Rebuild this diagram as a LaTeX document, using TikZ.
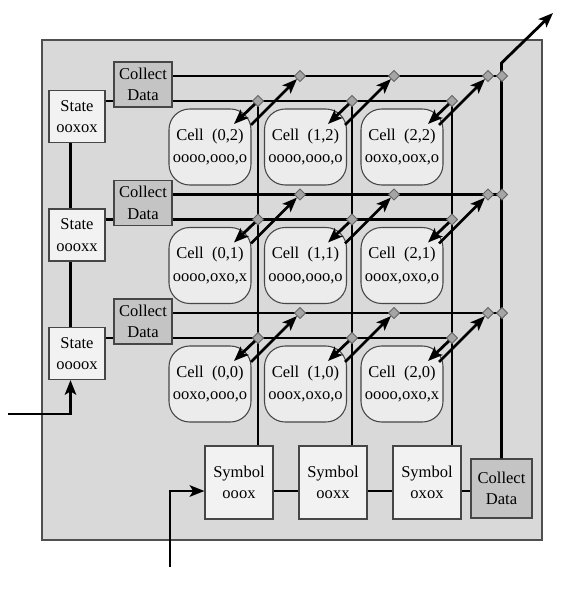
\documentclass[tikz,border=0pt]{standalone}
\usepackage{fontspec}
\setmainfont{Liberation Serif}
\usetikzlibrary{shapes.geometric,arrows.meta,calc}
\definecolor{panel}{RGB}{217,217,217}
\definecolor{frame}{RGB}{80,80,80}
\definecolor{boxline}{RGB}{70,70,70}
\definecolor{light}{RGB}{242,242,242}
\definecolor{cellfill}{RGB}{236,236,236}
\definecolor{collgray}{RGB}{196,196,196}
\definecolor{diafill}{RGB}{165,165,165}
\definecolor{diaedge}{RGB}{100,100,100}
\begin{document}
\begin{tikzpicture}[x=0.75pt,y=-0.75pt,>={Stealth[length=11pt,width=8.5pt,inset=2.5pt]},
every node/.style={font=\fontsize{12.4pt}{16pt}\selectfont},
box/.style={draw=boxline,line width=0.8pt,align=center,inner sep=0pt},
statebox/.style={box,fill=light,minimum width=42pt,minimum height=39pt},
collbox/.style={box,fill=collgray,minimum width=43.5pt,minimum height=33.75pt},
cellbox/.style={box,fill=cellfill,rounded corners=15.5pt,minimum width=61.5pt,minimum height=57pt,font=\fontsize{12.4pt}{17pt}\selectfont},
symbox/.style={box,fill=light,minimum width=51pt,minimum height=54.75pt},
dia/.style={diamond,draw=diaedge,fill=diafill,line width=0.6pt,inner sep=0pt,minimum size=8.5pt},
wire/.style={line width=2.1pt}]
\useasboundingbox (0,0) rectangle (566,599);
\draw[fill=panel,draw=frame,line width=1pt] (42,40) rectangle (542,540);

\coordinate (bus) at (0,491);
\coordinate (stx) at (70.5,0);
\coordinate (inL) at (8,414);
\coordinate (inS) at (170,567);
\coordinate (outc) at (502,63);
\coordinate (outt) at (553,13);
\foreach \j [evaluate=\j as \o using {118.5*(2-\j)}] in {2,1,0}{
  \foreach \i/\lx/\ux in {0/258/300,1/352/394,2/452/488}{
    \coordinate (lo-\i-\j) at (\lx,101+\o);
    \coordinate (up-\i-\j) at (\ux,76+\o);
  }
  \coordinate (up-3-\j) at (502,76+\o);
}

% boxes
\node[statebox] (state-2) at (77,116.5) {State\\ooxox};
\node[statebox] (state-1) at (77,235) {State\\oooxx};
\node[statebox] (state-0) at (77,353.5) {State\\oooox};
\foreach \j [evaluate=\j as \o using {118.5*(2-\j)}] in {2,1,0}
  \node[collbox] (coll-\j) at (143,84.5+\o) {Collect\\Data};
\foreach \i/\j/\d in {0/2/{oooo,ooo,o},1/2/{oooo,ooo,o},2/2/{ooxo,oox,o},
  0/1/{oooo,oxo,x},1/1/{oooo,ooo,o},2/1/{ooox,oxo,o},
  0/0/{ooxo,ooo,o},1/0/{ooox,oxo,o},2/0/{oooo,oxo,x}}{
  \pgfmathsetmacro\cx{{210,305.5,402}[\i]}
  \pgfmathsetmacro\cy{147+118.5*(2-\j)}
  \node[cellbox] (cell-\i-\j) at (\cx,\cy) {Cell~~(\i,\j)\\\d};
}
\foreach \i/\sx/\s in {0/239/ooox,1/333/ooxx,2/427/oxox}
  \node[symbox] (sym-\i) at (\sx,482.5) {Symbol\\\s};
\node[collbox,minimum width=45.75pt,minimum height=44.25pt] (collb) at (501.5,488.5) {Collect\\Data};

% wires
\draw[wire,->] (inL) -| (state-0.south -| stx);
\draw[wire] (state-2.south -| stx) -- (state-1.north -| stx);
\draw[wire] (state-1.south -| stx) -- (state-0.north -| stx);
\draw[wire,->] (inS) |- (sym-0.west |- bus);
\draw[wire] (sym-0.east |- bus) -- (sym-1.west |- bus);
\draw[wire] (sym-1.east |- bus) -- (sym-2.west |- bus);
\draw[wire] (sym-2.east |- bus) -- (collb.west |- bus);
\draw[wire,->] (collb.north) -- (collb.north |- outc) -- (outt);
\foreach \j in {2,1,0}{
  \draw[wire] (state-\j.east |- lo-0-\j) -- (coll-\j.west |- lo-0-\j);
  \draw[wire] (coll-\j.east |- lo-0-\j) -- (lo-2-\j);
  \draw[wire] (coll-\j.east |- up-0-\j) -- (up-3-\j);
}
\foreach \i in {0,1,2}
  \draw[wire] (sym-\i.north -| lo-\i-2) -- (lo-\i-2);

% taps
\foreach \j in {2,1,0}{
  \foreach \i in {0,1,2}
    \node[dia] (dl-\i-\j) at (lo-\i-\j) {};
  \foreach \i in {0,...,3}
    \node[dia] (du-\i-\j) at (up-\i-\j) {};
}
\foreach \j in {2,1,0}
  \foreach \i in {0,1,2}{
    \draw[wire,->] (dl-\i-\j) -- ($(lo-\i-\j)+(-24,23)$);
    \draw[wire,->] ($(up-\i-\j)+(-49,49)$) -- (du-\i-\j);
  }
\end{tikzpicture}
\end{document}
